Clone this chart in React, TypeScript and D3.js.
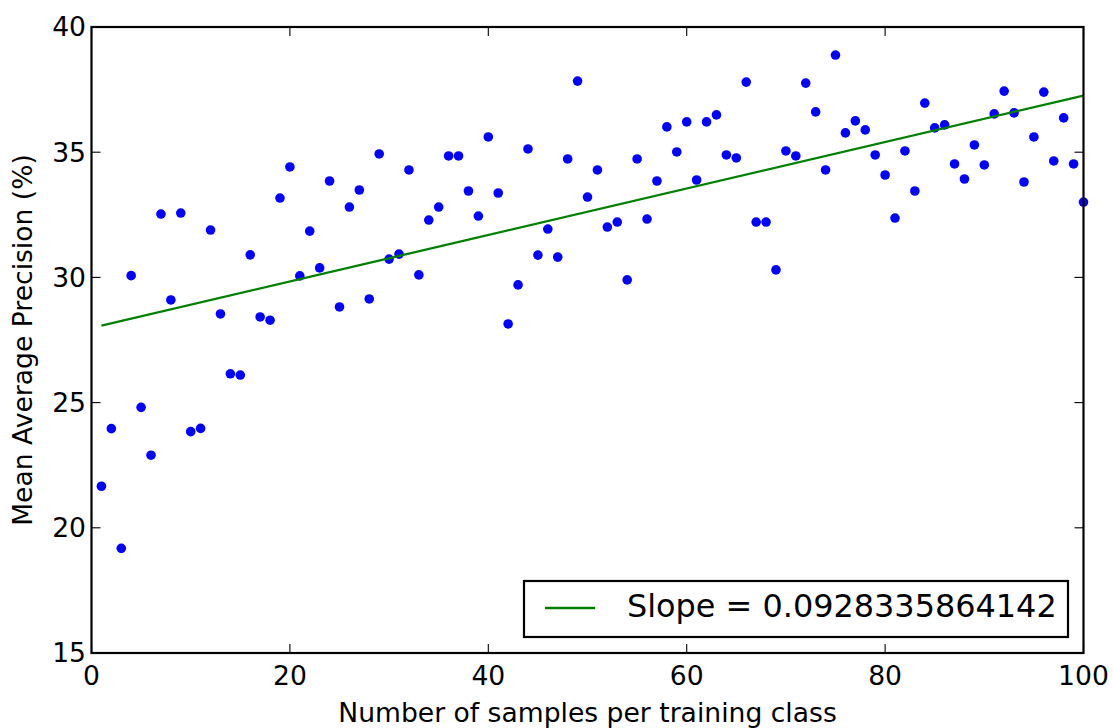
import React from 'react';
import * as d3 from 'd3';

const samplesPerClass = [
  1, 2, 3, 4, 5, 6, 7, 8, 9, 10,
  11, 12, 13, 14, 15, 16, 17, 18, 19, 20,
  21, 22, 23, 24, 25, 26, 27, 28, 29, 30,
  31, 32, 33, 34, 35, 36, 37, 38, 39, 40,
  41, 42, 43, 44, 45, 46, 47, 48, 49, 50,
  51, 52, 53, 54, 55, 56, 57, 58, 59, 60,
  61, 62, 63, 64, 65, 66, 67, 68, 69, 70,
  71, 72, 73, 74, 75, 76, 77, 78, 79, 80,
  81, 82, 83, 84, 85, 86, 87, 88, 89, 90,
  91, 92, 93, 94, 95, 96, 97, 98, 99, 100,
];

const meanAvgPrecision = [
  21.66, 23.96, 19.18, 30.07, 24.81, 22.9, 32.53, 29.1, 32.57, 23.84,
  23.97, 31.89, 28.54, 26.15, 26.1, 30.9, 28.42, 28.29, 33.17, 34.41,
  30.06, 31.85, 30.38, 33.85, 28.82, 32.81, 33.49, 29.14, 34.93, 30.73,
  30.93, 34.29, 30.1, 32.29, 32.81, 34.85, 34.85, 33.45, 32.45, 35.61,
  33.37, 28.14, 29.7, 35.13, 30.89, 31.93, 30.81, 34.73, 37.84, 33.21,
  34.29, 32.01, 32.21, 29.9, 34.73, 32.33, 33.85, 36.01, 35.01, 36.21,
  33.89, 36.21, 36.49, 34.89, 34.77, 37.8, 32.21, 32.21, 30.3, 35.05,
  34.85, 37.76, 36.61, 34.29, 38.88, 35.77, 36.25, 35.89, 34.89, 34.09,
  32.37, 35.05, 33.45, 36.96, 35.97, 36.09, 34.53, 33.93, 35.29, 34.49,
  36.53, 37.44, 36.57, 33.81, 35.61, 37.4, 34.65, 36.37, 34.53, 33.01,
];

const slope = 0.0928335864142;
const intercept = 27.98;
const legendLabel = 'Slope = 0.0928335864142';
const xTicks = [0, 20, 40, 60, 80, 100];
const yTicks = [15, 20, 25, 30, 35, 40];
const xLabel = 'Number of samples per training class';
const yLabel = 'Mean Average Precision (%)';

export default function App() {
  const W = 1114;
  const H = 728;
  const left = 91.5, right = 1083.5, top = 27, bottom = 653;
  const x = d3.scaleLinear().domain([0, 100]).range([left, right]);
  const y = d3.scaleLinear().domain([15, 40]).range([bottom, top]);
  const fitX = [samplesPerClass[0], samplesPerClass[samplesPerClass.length - 1]];
  const line = d3.line<number>().x(d => x(d)).y(d => y(intercept + slope * d));
  const font = 'DejaVu Sans';
  const fs = 26.6;
  const tl = 9;
  return (
    <svg width={W} height={H} style={{ position: 'absolute', left: 0, top: 0, background: '#fff' }} fontFamily={font}>
      <rect x={0} y={0} width={W} height={H} fill="#fff" />
      {samplesPerClass.map((s, i) => (
        <circle key={i} cx={x(s)} cy={y(meanAvgPrecision[i])} r={4.8} fill="#0000ff" />
      ))}
      <path d={line(fitX) || ''} stroke="#008000" strokeWidth={2.3} fill="none" />
      {xTicks.map(t => (
        <g key={'x' + t}>
          <line x1={x(t)} x2={x(t)} y1={bottom} y2={bottom - tl} stroke="#000" strokeWidth={1.1} />
          <line x1={x(t)} x2={x(t)} y1={top} y2={top + tl} stroke="#000" strokeWidth={1.1} />
          <text x={x(t)} y={684.5} fontSize={fs} textAnchor="middle">{t}</text>
        </g>
      ))}
      {yTicks.map(t => (
        <g key={'y' + t}>
          <line x1={left} x2={left + tl} y1={y(t)} y2={y(t)} stroke="#000" strokeWidth={1.1} />
          <line x1={right} x2={right - tl} y1={y(t)} y2={y(t)} stroke="#000" strokeWidth={1.1} />
          <text x={86} y={y(t)} dy="0.35em" fontSize={fs} textAnchor="end">{t}</text>
        </g>
      ))}
      <rect x={left} y={top} width={right - left} height={bottom - top} fill="none" stroke="#000" strokeWidth={2.2} />
      <text x={(left + right) / 2} y={722} fontSize={fs} textAnchor="middle">{xLabel}</text>
      <text transform={`translate(32,${(top + bottom) / 2}) rotate(-90)`} fontSize={fs} textAnchor="middle">{yLabel}</text>
      <g>
        <rect x={524} y={581} width={544} height={56} fill="#fff" stroke="#000" strokeWidth={2.2} />
        <line x1={545} x2={595} y1={608} y2={608} stroke="#008000" strokeWidth={2.3} />
        <text x={627} y={617} fontSize={31.9}>{legendLabel}</text>
      </g>
    </svg>
  );
}
